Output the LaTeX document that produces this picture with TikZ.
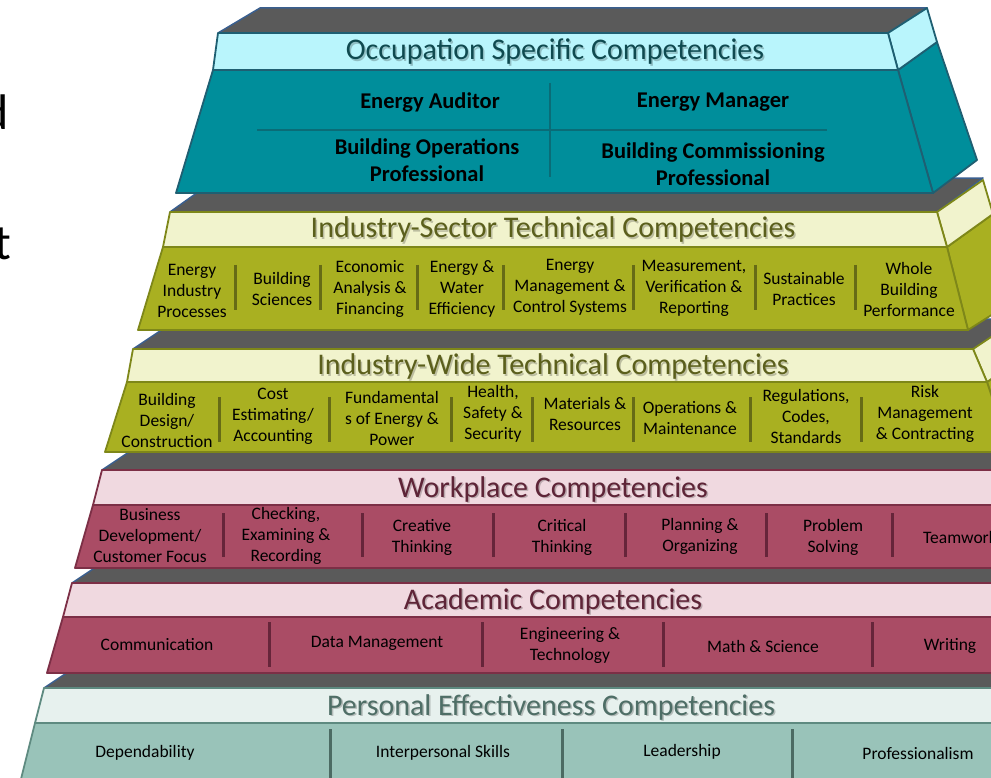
\documentclass[tikz,border=0pt]{standalone}
\usepackage{fontspec}
\setmainfont{Carlito}
\definecolor{grayTop}{HTML}{5A5A5A}
\definecolor{edgeBlue}{HTML}{3A5F8F}
\definecolor{tealHead}{HTML}{B9F5FC}
\definecolor{tealBody}{HTML}{008E9B}
\definecolor{tealEdge}{HTML}{1F5F72}
\definecolor{tealDiv}{HTML}{0A6C77}
\definecolor{tealTitle}{HTML}{0F4A50}
\definecolor{olHead}{HTML}{F1F3CD}
\definecolor{olBody}{HTML}{A9B021}
\definecolor{olEdge}{HTML}{7E8719}
\definecolor{olDiv}{HTML}{666B16}
\definecolor{olTitle}{HTML}{5B5F1C}
\definecolor{raHead}{HTML}{F0D9E0}
\definecolor{raBody}{HTML}{AA4C65}
\definecolor{raEdge}{HTML}{7C2F46}
\definecolor{raDiv}{HTML}{66253A}
\definecolor{raTitle}{HTML}{5E2437}
\definecolor{peHead}{HTML}{E7F1EE}
\definecolor{peBody}{HTML}{99C3B9}
\definecolor{peEdge}{HTML}{5E8A80}
\definecolor{peDiv}{HTML}{4C6B63}
\definecolor{peTitle}{HTML}{4E6E66}
\tikzset{
  topface/.style={fill=grayTop, draw=edgeBlue, line width=1.5pt, line join=round},
  face/.style={line width=1.8pt, line join=round},
  item/.style={align=center, font=\fontsize{17.5}{21}\selectfont, inner sep=0pt, text=black},
  boss/.style={align=center, font=\bfseries\fontsize{22.5}{27}\selectfont, inner sep=0pt, text=black},
  ttl/.style={font=\fontsize{30}{32}\selectfont, inner sep=0pt},
  shd/.style={font=\fontsize{30}{32}\selectfont, inner sep=0pt, text=black, opacity=0.22},
  divline/.style={line width=3pt},
  big/.style={font=\fontsize{50}{50}\selectfont, inner sep=0pt, anchor=base east}
}
\begin{document}
\begin{tikzpicture}[x=1pt,y=-1pt]
\useasboundingbox (0,0) rectangle (991,778);
\clip (0,0) rectangle (991,778);
\fill[white] (0,0) rectangle (991,778);

% left margin letters
\node[big] (ld) at (9,130) {d};
\node[big] (lt) at (11,260) {t};

% ===== Layer 6: Personal Effectiveness =====
\draw[topface] (44,688) -- (89,658) -- (1060,658) -- (1060,688) -- cycle;
\draw[face, draw=peEdge, fill=peHead] (44,688) -- (1010,688) -- (1010,723) -- (35,723) -- cycle;
\draw[face, draw=peEdge, fill=peBody] (35,723) -- (1010,723) -- (1010,795) -- (17,795) -- cycle;
\node[shd] at (552.5,708.5) {Personal Effectiveness Competencies};
\node[ttl, text=peTitle] (t6) at (551,707) {Personal Effectiveness Competencies};
\foreach \x in {330,562,792} \draw[divline, peDiv] (\x,729) -- (\x,778);
\node[item] (p1) at (145,753) {Dependability};
\node[item] (p2) at (443,753) {Interpersonal Skills};
\node[item] (p3) at (682,752) {Leadership};
\node[item] (p4) at (918,753) {Professionalism};

% ===== Layer 5: Academic =====
\draw[topface] (72,583) -- (117,553) -- (1060,553) -- (1060,583) -- cycle;
\draw[face, draw=raEdge, fill=raHead] (72,583) -- (1010,583) -- (1010,617) -- (63,617) -- cycle;
\draw[face, draw=raEdge, fill=raBody] (63,617) -- (1010,617) -- (1010,673) -- (47,673) -- cycle;
\node[shd] at (554.5,602.5) {Academic Competencies};
\node[ttl, text=raTitle] (t5) at (553,601) {Academic Competencies};
\foreach \x in {269,482,663,872} \draw[divline, raDiv] (\x,622) -- (\x,667);
\node[item] (a1) at (157,645) {Communication};
\node[item] (a2) at (377,643) {Data Management};
\node[item] (a3) at (570,645) {Engineering \&\\Technology};
\node[item] (a4) at (763,646) {Math \& Science};
\node[item] (a5) at (950,646) {Writing};

% ===== Layer 4: Workplace =====
\draw[topface] (102,470) -- (147,440) -- (1060,440) -- (1060,470) -- cycle;
\draw[face, draw=raEdge, fill=raHead] (102,470) -- (1010,470) -- (1010,505) -- (93,505) -- cycle;
\draw[face, draw=raEdge, fill=raBody] (93,505) -- (1010,505) -- (1010,568) -- (75,568) -- cycle;
\node[shd] at (554.5,490.5) {Workplace Competencies};
\node[ttl, text=raTitle] (t4) at (553,489) {Workplace Competencies};
\foreach \x in {223,362,493,625,766,892} \draw[divline, raDiv] (\x,513) -- (\x,557);
\node[item] (w1) at (150,536) {Business\\Development/\\Customer Focus};
\node[item] (w2) at (286,536) {Checking,\\Examining \&\\Recording};
\node[item] (w3) at (422,537) {Creative\\Thinking};
\node[item] (w4) at (562,537) {Critical\\Thinking};
\node[item] (w5) at (700,536) {Planning \&\\Organizing};
\node[item] (w6) at (833,537) {Problem\\Solving};
\node[item, anchor=west] (w7) at (923,537) {Teamwork};

% ===== Layer 3: Industry-Wide =====
\draw[topface] (133,349) -- (178,319) -- (1018,319) -- (973,349) -- cycle;
\draw[face, draw=olEdge, fill=olBody] (987,382) -- (1030,352) -- (1055,430) -- (1010,452) -- cycle;
\draw[face, draw=olEdge, fill=olHead] (973,349) -- (1018,319) -- (1030,352) -- (987,382) -- cycle;
\draw[face, draw=olEdge, fill=olHead] (133,349) -- (973,349) -- (987,382) -- (127,382) -- cycle;
\draw[face, draw=olEdge, fill=olBody] (127,382) -- (987,382) -- (1010,452) -- (105,452) -- cycle;
\node[shd] at (554.5,368.5) {Industry-Wide Technical Competencies};
\node[ttl, text=olTitle] (t3) at (553,367) {Industry-Wide Technical Competencies};
\foreach \x in {219,329,451,532,633,750,861} \draw[divline, olDiv] (\x,397) -- (\x,442);
\node[item] (i1) at (167,420) {Building\\Design/\\Construction};
\node[item] (i2) at (273,416) {Cost\\Estimating/\\Accounting};
\node[item] (i3) at (392,418) {Fundamental\\s of Energy \&\\Power};
\node[item] (i4) at (493,414) {Health,\\Safety \&\\Security};
\node[item] (i5) at (585,414) {Materials \&\\Resources};
\node[item] (i6) at (690,418) {Operations \&\\Maintenance};
\node[item] (i7) at (806,416) {Regulations,\\Codes,\\Standards};
\node[item] (i8) at (925,414) {Risk\\Management\\\& Contracting};

% ===== Layer 2: Industry-Sector =====
\draw[topface] (170,212) -- (215,180) -- (983,178) -- (937,212) -- cycle;
\draw[face, draw=olEdge, fill=olBody] (947,247) -- (993,214) -- (1015,300) -- (968,330) -- cycle;
\draw[face, draw=olEdge, fill=olHead] (937,212) -- (983,180) -- (993,214) -- (947,247) -- cycle;
\draw[face, draw=olEdge, fill=olHead] (170,212) -- (937,212) -- (947,247) -- (163,247) -- cycle;
\draw[face, draw=olEdge, fill=olBody] (163,247) -- (947,247) -- (968,330) -- (138,330) -- cycle;
\node[shd] at (554.5,231.5) {Industry-Sector Technical Competencies};
\node[ttl, text=olTitle] (t2) at (553,230) {Industry-Sector Technical Competencies};
\foreach \x in {235,320,417,503,633,755,855} \draw[divline, olDiv] (\x,265) -- (\x,310);
\node[item] (s1) at (192,291) {Energy\\Industry\\Processes};
\node[item] (s2) at (282,289) {Building\\Sciences};
\node[item] (s3) at (370,289) {Economic\\Analysis \&\\Financing};
\node[item] (s4) at (462,289) {Energy \&\\Water\\Efficiency};
\node[item] (s5) at (570,287) {Energy\\Management \&\\Control Systems};
\node[item] (s6) at (694,288) {Measurement,\\Verification \&\\Reporting};
\node[item] (s7) at (804,289) {Sustainable\\Practices};
\node[item] (s8) at (909,289) {Whole\\Building\\Performance};

% ===== Layer 1: Occupation Specific =====
\draw[topface] (218,33) -- (260,8) -- (927,8) -- (888,33) -- cycle;
\draw[face, draw=tealEdge, fill=tealBody] (898,70) -- (937,42) -- (977,160) -- (933,193) -- cycle;
\draw[face, draw=tealEdge, fill=tealHead] (888,33) -- (927,8) -- (937,42) -- (898,70) -- cycle;
\draw[face, draw=tealEdge, fill=tealHead] (218,33) -- (888,33) -- (898,70) -- (213,70) -- cycle;
\draw[face, draw=tealEdge, fill=tealBody] (213,70) -- (898,70) -- (933,193) -- (176,193) -- cycle;
\node[shd] at (556.5,53.5) {Occupation Specific Competencies};
\node[ttl, text=tealTitle] (t1) at (555,52) {Occupation Specific Competencies};
\draw[line width=2.5pt, tealDiv] (550,83) -- (550,177);
\draw[line width=2.5pt, tealDiv] (257,130) -- (827,130);
\node[boss] (o1) at (430,103) {Energy Auditor};
\node[boss] (o2) at (713,102) {Energy Manager};
\node[boss] (o3) at (427,160) {Building Operations\\Professional};
\node[boss] (o4) at (713,164) {Building Commissioning\\Professional};
\end{tikzpicture}
\end{document}
